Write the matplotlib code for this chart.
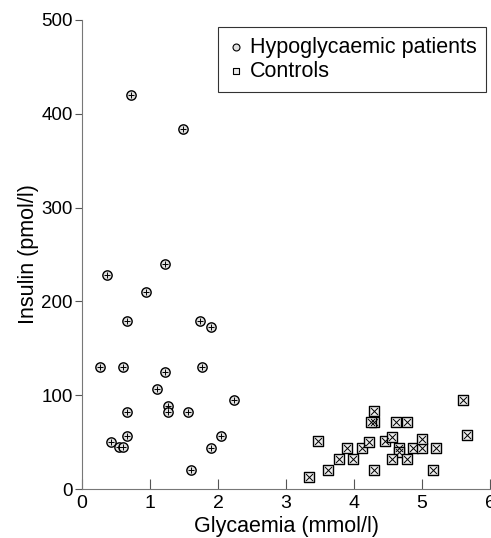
import numpy as np
import matplotlib.pyplot as plt

plt.rcParams['font.family'] = ['Liberation Sans', 'DejaVu Sans']

# hypoglycaemic patients: glycaemia (mmol/l), insulin (pmol/l)
pat_glu = [0.72, 1.48, 1.22, 0.37, 0.94, 0.66, 1.73, 1.89, 0.26, 0.61, 1.77,
           1.22, 1.11, 2.24, 1.27, 1.27, 0.66, 1.56, 0.66, 2.05, 0.43, 0.54,
           0.61, 1.89, 1.61]
pat_ins = [420, 384, 240, 228, 210, 179, 179, 173, 130, 130, 130,
           125, 107, 95, 88, 82, 82, 82, 57, 57, 50, 45,
           45, 44, 20]

# controls
ctl_glu = [5.60, 5.66, 4.29, 4.29, 4.25, 4.62, 4.78, 3.47, 3.90, 4.12, 4.22,
           4.46, 4.56, 4.66, 4.66, 4.87, 5.00, 5.00, 5.21, 3.78, 3.99, 4.56,
           4.78, 3.62, 4.29, 5.16, 3.34]
ctl_ins = [95, 58, 83, 71, 71, 71, 71, 51, 44, 44, 50,
           51, 55, 44, 39, 44, 44, 53, 44, 32, 32, 32,
           32, 20, 20, 20, 13]

fig = plt.figure(figsize=(4.91, 5.38), dpi=100)
ax = fig.add_axes([0.167, 0.091, 0.831, 0.872])

ax.scatter(pat_glu, pat_ins, s=45, marker='o', facecolor='#e0e0e0',
           edgecolor='black', linewidth=1.0, zorder=3)
ax.scatter(pat_glu, pat_ins, s=25, marker='+', color='black',
           linewidth=0.7, zorder=4)
ax.scatter(ctl_glu, ctl_ins, s=45, marker='s', facecolor='#ececec',
           edgecolor='black', linewidth=1.0, zorder=3)
ax.scatter(ctl_glu, ctl_ins, s=25, marker='x', color='black',
           linewidth=0.7, zorder=4)

# legend handles
h1 = ax.scatter([], [], s=25, marker='o', facecolor='#e0e0e0', edgecolor='black', linewidth=0.8)
h2 = ax.scatter([], [], s=25, marker='s', facecolor='#ececec', edgecolor='black', linewidth=0.8)
leg = ax.legend([h1, h2], ['Hypoglycaemic patients', 'Controls'],
                loc='upper right', bbox_to_anchor=(0.99, 0.985),
                fontsize=15.5, frameon=True, fancybox=False, handletextpad=0.3,
                borderpad=0.45, labelspacing=0.15, handlelength=0.7,
                borderaxespad=0.0)
leg.get_frame().set_edgecolor('black')
leg.get_frame().set_linewidth(0.8)

ax.set_xlim(0, 6)
ax.set_ylim(0, 500)
ax.set_xticks([0, 1, 2, 3, 4, 5, 6])
ax.set_yticks([0, 100, 200, 300, 400, 500])
ax.spines['top'].set_visible(False)
ax.spines['right'].set_visible(False)
ax.spines['left'].set_color('#777777')
ax.spines['bottom'].set_color('#777777')
ax.tick_params(axis='x', direction='in', length=7, labelsize=14, pad=4, color='#555555')
ax.tick_params(axis='y', direction='out', length=5, labelsize=13.5, pad=1.5, color='#555555')

ax.set_xlabel('Glycaemia (mmol/l)', fontsize=15.5, labelpad=3)
ax.set_ylabel('Insulin (pmol/l)', fontsize=15.5, labelpad=2)

fig.savefig('out.png', dpi=100)
